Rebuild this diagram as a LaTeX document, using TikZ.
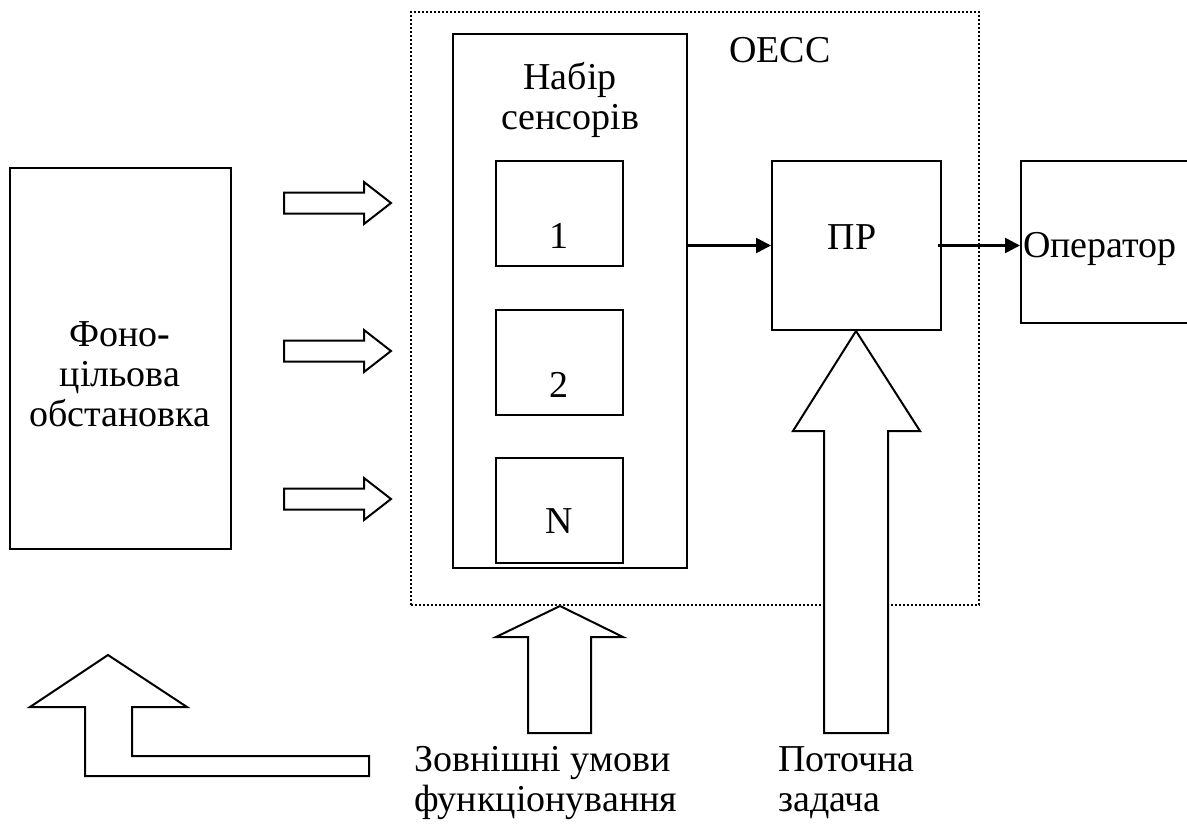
\documentclass[tikz,border=0pt]{standalone}
\usepackage{fontspec}
\setmainfont{Liberation Serif}
\usetikzlibrary{arrows.meta}

\begin{document}
\begin{tikzpicture}[x=1pt,y=-1pt]
\tikzset{every node/.style={inner sep=0pt,font=\fontsize{38}{40}\selectfont}}
\tikzset{box/.style={draw,line width=2pt}}
\tikzset{blockarrow/.style={draw,fill=white,line width=2pt,line join=miter}}
\tikzset{conn/.style={line width=2.5pt,-{Triangle[length=15pt,width=15pt]}}}
\useasboundingbox (0,0) rectangle (1187,828);
\clip (0,0) rectangle (1187,828);
% boxes
\node[box,minimum width=221pt,minimum height=381pt] (scene) at (120.5,358.5) {};
\node[align=center] (scenetext) at (120,374) {Фоно\textbf{-}\\цільова\\обстановка};
\node[draw,line width=2pt,dash pattern=on 2pt off 2pt,minimum width=568pt,minimum height=593pt] (oess) at (695,308.5) {};
\node[anchor=base west] (oesstext) at (729,62) {ОЕСС};
\node[box,minimum width=234pt,minimum height=534pt] (sensors) at (570,301) {};
\node[align=center] (sensorstext) at (570,100) {Набір\\сенсорів};
\foreach \n/\y/\b/\lab in {1/213.5/248/1,2/362/397/2,3/510/533/N}{
  \node[box,minimum width=127pt,minimum height=105pt] (s\n) at (559.5,\y) {};
  \node[anchor=base] (s\n text) at (559,\b) {\lab};
}
\node[box,minimum width=169pt,minimum height=169pt] (pr) at (856.5,245.5) {};
\node[anchor=base] (prtext) at (852,249) {ПР};
\node[box,minimum width=200pt,minimum height=162pt] (operator) at (1121,242) {};
\node[anchor=base west] (operatortext) at (1023,257) {Оператор};
% connectors
\draw[conn] (sensors.east |- pr.west) -- (pr.west);
\draw[conn] ([xshift=-4pt]pr.east) -- (pr.east -| operator.west);
% block arrows
\foreach \y in {203,351,499}{
  \draw[blockarrow] (284,\y-10.5) -- (364,\y-10.5) -- (364,\y-21) -- (391,\y) -- (364,\y+21) -- (364,\y+10.5) -- (284,\y+10.5) -- cycle;
}
\draw[blockarrow] (108,655) -- (187,707) -- (132,707) -- (132,756) -- (369,756) -- (369,776) -- (85,776) -- (85,707) -- (30,707) -- cycle;
\draw[blockarrow] (560,606) -- (623,637) -- (591,637) -- (591,733) -- (528,733) -- (528,637) -- (496,637) -- cycle;
\draw[blockarrow] (856,331) -- (920,431) -- (888,431) -- (888,733) -- (824,733) -- (824,431) -- (793,431) -- cycle;
\node[anchor=west,align=left] (outer) at (414,783) {Зовнішні умови\\функціонування};
\node[anchor=west,align=left] (task) at (778,783) {Поточна\\задача};
\end{tikzpicture}
\end{document}
